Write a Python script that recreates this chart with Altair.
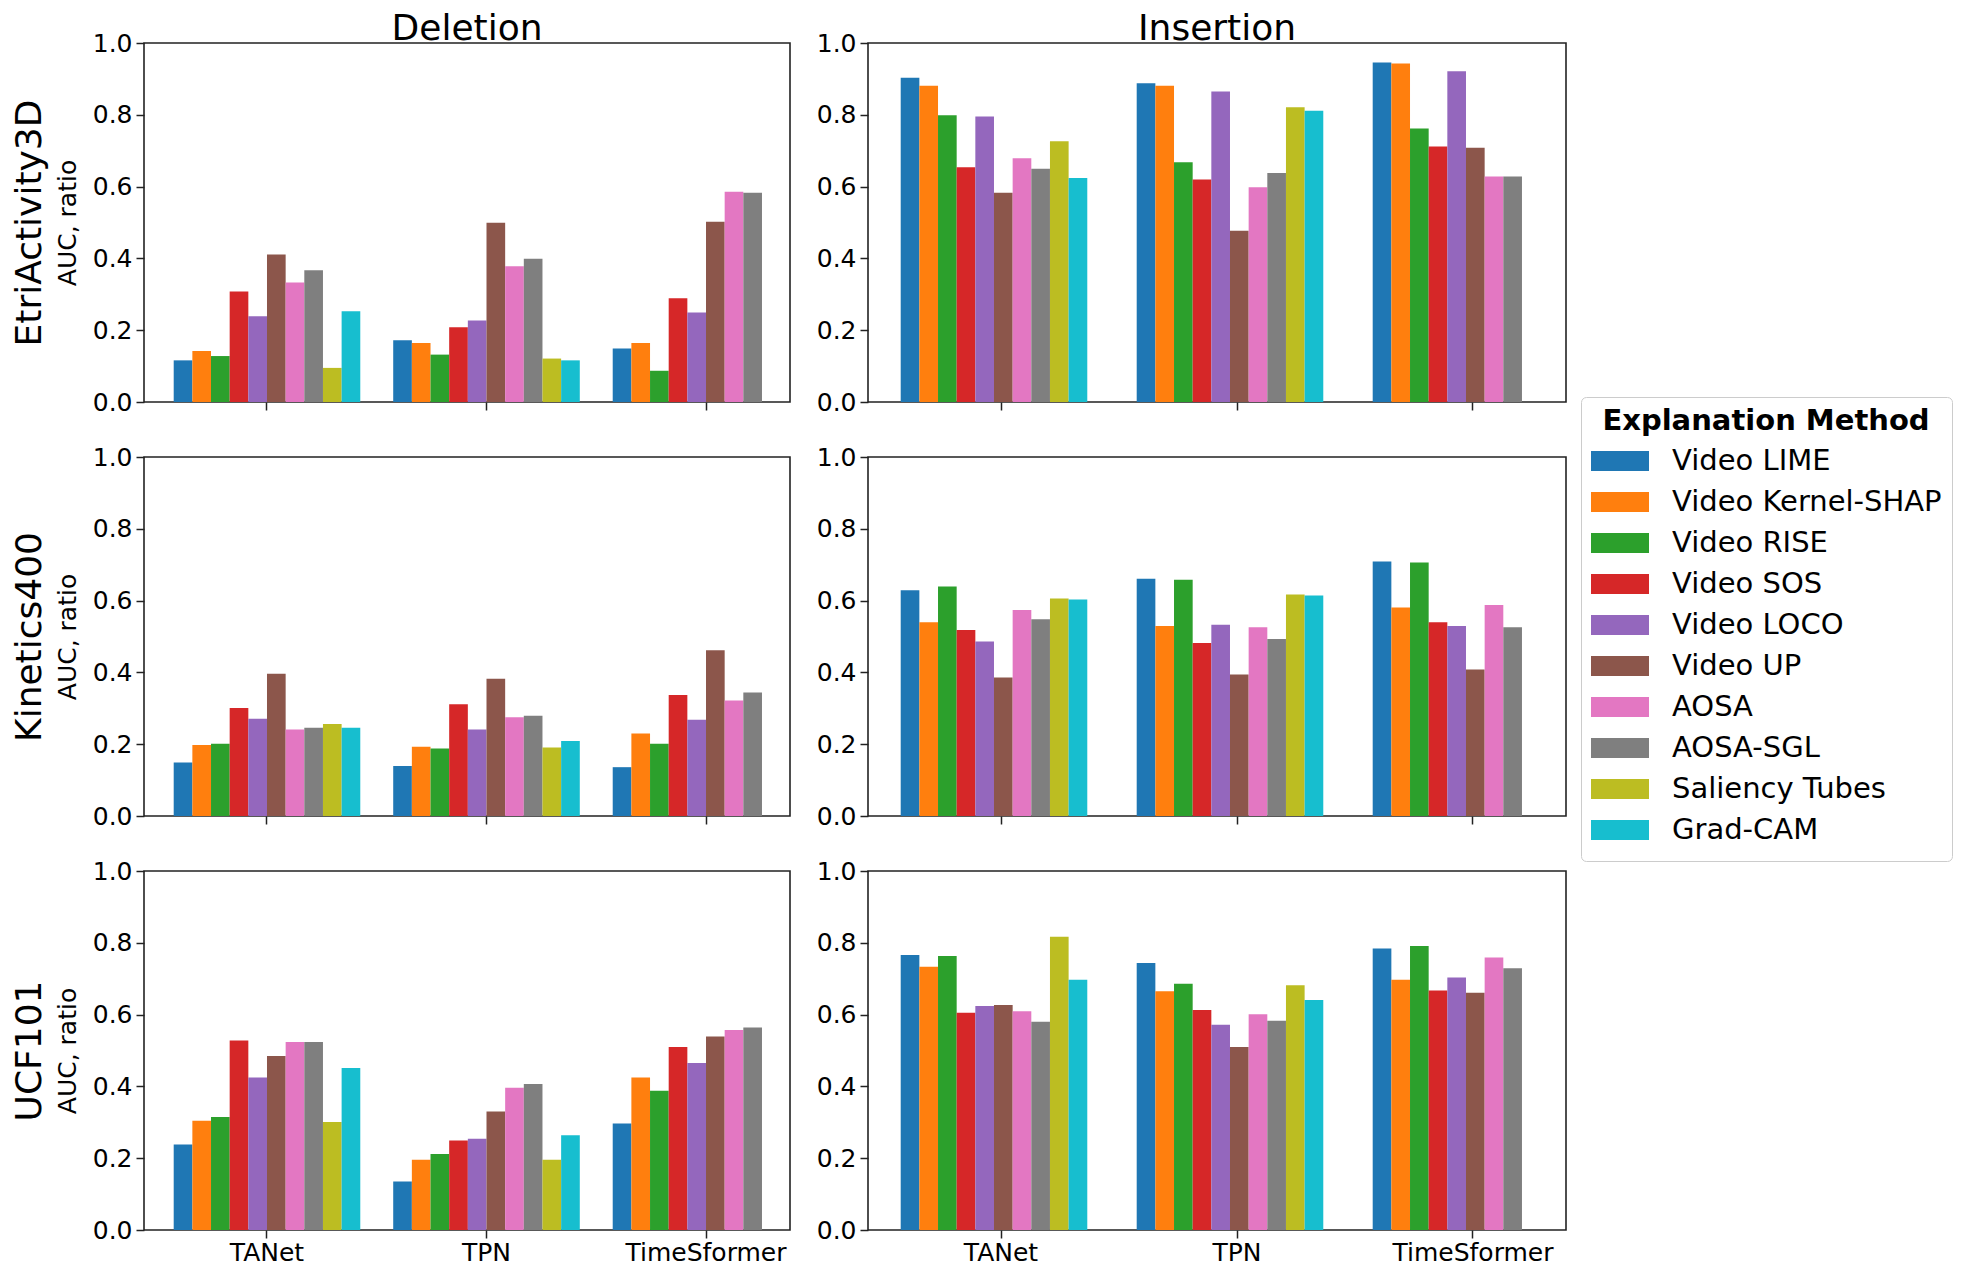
import altair as alt
import pandas as pd

MODELS = ["TANet", "TPN", "TimeSformer"]
METHODS = ["Video LIME", "Video Kernel-SHAP", "Video RISE", "Video SOS", "Video LOCO",
           "Video UP", "AOSA", "AOSA-SGL", "Saliency Tubes", "Grad-CAM"]
COLORS = ["#1f77b4", "#ff7f0e", "#2ca02c", "#d62728", "#9467bd",
          "#8c564b", "#e377c2", "#7f7f7f", "#bcbd22", "#17becf"]
DATASETS = ["EtriActivity3D", "Kinetics400", "UCF101"]
METRICS = ["Deletion", "Insertion"]
Y_TICKS = [0.0, 0.2, 0.4, 0.6, 0.8, 1.0]

# values in METHODS order (TimeSformer has no Saliency Tubes / Grad-CAM)
ETRI_DEL = {
    "TANet": [0.116, 0.142, 0.128, 0.308, 0.239, 0.411, 0.333, 0.367, 0.095, 0.253],
    "TPN": [0.172, 0.164, 0.132, 0.208, 0.227, 0.499, 0.378, 0.399, 0.121, 0.116],
    "TimeSformer": [0.149, 0.164, 0.087, 0.289, 0.249, 0.502, 0.586, 0.583],
}
ETRI_INS = {
    "TANet": [0.903, 0.881, 0.799, 0.654, 0.795, 0.583, 0.679, 0.650, 0.726, 0.624],
    "TPN": [0.888, 0.881, 0.668, 0.620, 0.865, 0.477, 0.598, 0.638, 0.821, 0.811],
    "TimeSformer": [0.946, 0.943, 0.762, 0.712, 0.921, 0.708, 0.628, 0.628],
}
KIN_DEL = {
    "TANet": [0.149, 0.198, 0.201, 0.301, 0.271, 0.396, 0.241, 0.246, 0.256, 0.246],
    "TPN": [0.139, 0.193, 0.188, 0.311, 0.241, 0.382, 0.275, 0.279, 0.191, 0.209],
    "TimeSformer": [0.136, 0.230, 0.201, 0.337, 0.268, 0.462, 0.322, 0.344],
}
KIN_INS = {
    "TANet": [0.629, 0.540, 0.639, 0.518, 0.486, 0.386, 0.574, 0.548, 0.606, 0.603],
    "TPN": [0.661, 0.529, 0.658, 0.482, 0.533, 0.394, 0.526, 0.493, 0.617, 0.614],
    "TimeSformer": [0.709, 0.581, 0.706, 0.540, 0.529, 0.408, 0.588, 0.526],
}
UCF_DEL = {
    "TANet": [0.238, 0.304, 0.315, 0.528, 0.425, 0.485, 0.524, 0.524, 0.301, 0.451],
    "TPN": [0.135, 0.196, 0.212, 0.249, 0.254, 0.330, 0.396, 0.407, 0.196, 0.264],
    "TimeSformer": [0.297, 0.425, 0.388, 0.510, 0.465, 0.539, 0.557, 0.564],
}
UCF_INS = {
    "TANet": [0.766, 0.733, 0.763, 0.605, 0.624, 0.627, 0.609, 0.580, 0.817, 0.697],
    "TPN": [0.744, 0.665, 0.686, 0.613, 0.572, 0.510, 0.601, 0.583, 0.682, 0.641],
    "TimeSformer": [0.784, 0.697, 0.791, 0.667, 0.703, 0.661, 0.759, 0.729],
}

PANELS = {
    ("EtriActivity3D", "Deletion"): ETRI_DEL,
    ("EtriActivity3D", "Insertion"): ETRI_INS,
    ("Kinetics400", "Deletion"): KIN_DEL,
    ("Kinetics400", "Insertion"): KIN_INS,
    ("UCF101", "Deletion"): UCF_DEL,
    ("UCF101", "Insertion"): UCF_INS,
}

records = []
for (ds, met), vals in PANELS.items():
    for model in MODELS:
        for method, v in zip(METHODS, vals[model]):
            records.append({"dataset": ds, "metric": met, "model": model,
                            "method": method, "value": v})
df = pd.DataFrame(records)

FONT = "DejaVu Sans"
PANEL_H = 359

legend = alt.Legend(
    title="Explanation Method", orient="none", legendX=1437, legendY=354,
    titleFontSize=29, titleFontWeight="bold", titleAnchor="middle", titleAlign="center",
    titlePadding=4.5, titleLimit=600, labelLimit=600, labelFontSize=29, labelOffset=23,
    symbolType="M-1,-0.345L1,-0.345L1,0.345L-1,0.345Z", symbolSize=3364,
    symbolStrokeWidth=0, symbolOpacity=1, rowPadding=0, clipHeight=41, padding=10,
    strokeColor="#cccccc", cornerRadius=5, fillColor="white",
    labelColor="black", titleColor="black", labelFont=FONT, titleFont=FONT,
)


def panel(ds, met, col, row):
    d = df[(df.dataset == ds) & (df.metric == met)]
    left = col == 0
    bottom = row == 2
    rng = [29.7, 655.3] if left else [32.7, 705.3]
    w = 646 if left else 698
    xs = alt.X("model:N", sort=MODELS, title=None,
               scale=alt.Scale(domain=MODELS, range=rng, paddingInner=0.15, paddingOuter=0),
               axis=alt.Axis(labels=bottom, labelAngle=0, domain=False, ticks=True,
                             tickSize=8, tickWidth=1.5, tickColor="#222",
                             labelFontSize=25, labelPadding=2, labelColor="black"))
    xo = alt.XOffset("method:N", sort=METHODS,
                     scale=alt.Scale(domain=METHODS, paddingInner=0, paddingOuter=0))
    ys = alt.Y("value:Q", scale=alt.Scale(domain=[0, 1], nice=False),
               axis=alt.Axis(values=Y_TICKS, format=".1f", grid=False, domain=False,
                             tickSize=8, tickWidth=1.5, tickColor="#222",
                             labelFontSize=25, labelPadding=4, labelColor="black",
                             title="AUC, ratio" if left else None,
                             titleFontSize=25, titleFontWeight="normal",
                             titlePadding=12, titleColor="black"))
    color = alt.Color("method:N", sort=METHODS,
                      scale=alt.Scale(domain=METHODS, range=COLORS), legend=legend)
    bars = alt.Chart(d).mark_bar(strokeWidth=0).encode(x=xs, xOffset=xo, y=ys, color=color)
    if left:
        lab = alt.Chart(d).mark_bar(opacity=0).encode(
            x=xs,
            xOffset=xo,
            y=alt.Y("value:Q",
                    axis=alt.Axis(orient="left", title=ds, labels=False, ticks=False,
                                  domain=False, grid=False, titleFontSize=36,
                                  titleFontWeight="normal", titlePadding=96,
                                  titleColor="black")),
        )
        ch = alt.layer(bars, lab).resolve_axis(y="independent")
    else:
        ch = alt.layer(bars)
    props = dict(width=w, height=PANEL_H)
    if row == 0:
        props["title"] = alt.TitleParams(met, fontSize=36, fontWeight="normal",
                                         frame="group", anchor="middle", offset=-17,
                                         color="black", font=FONT)
    return ch.properties(**props)


cols = []
for ci, met in enumerate(METRICS):
    cols.append(alt.vconcat(*[panel(ds, met, ci, ri) for ri, ds in enumerate(DATASETS)],
                            spacing=28))

chart = (
    alt.hconcat(*cols, spacing=24)
    .resolve_scale(color="shared")
    .properties(padding={"left": 2, "top": 2, "right": 0, "bottom": 0})
    .configure(font=FONT)
    .configure_view(stroke="#222", strokeWidth=1.6)
    .configure_axis(grid=False, labelFont=FONT, titleFont=FONT)
    .configure_title(font=FONT)
)

chart.save("out.html", embed_options={"renderer": "svg", "actions": False})
